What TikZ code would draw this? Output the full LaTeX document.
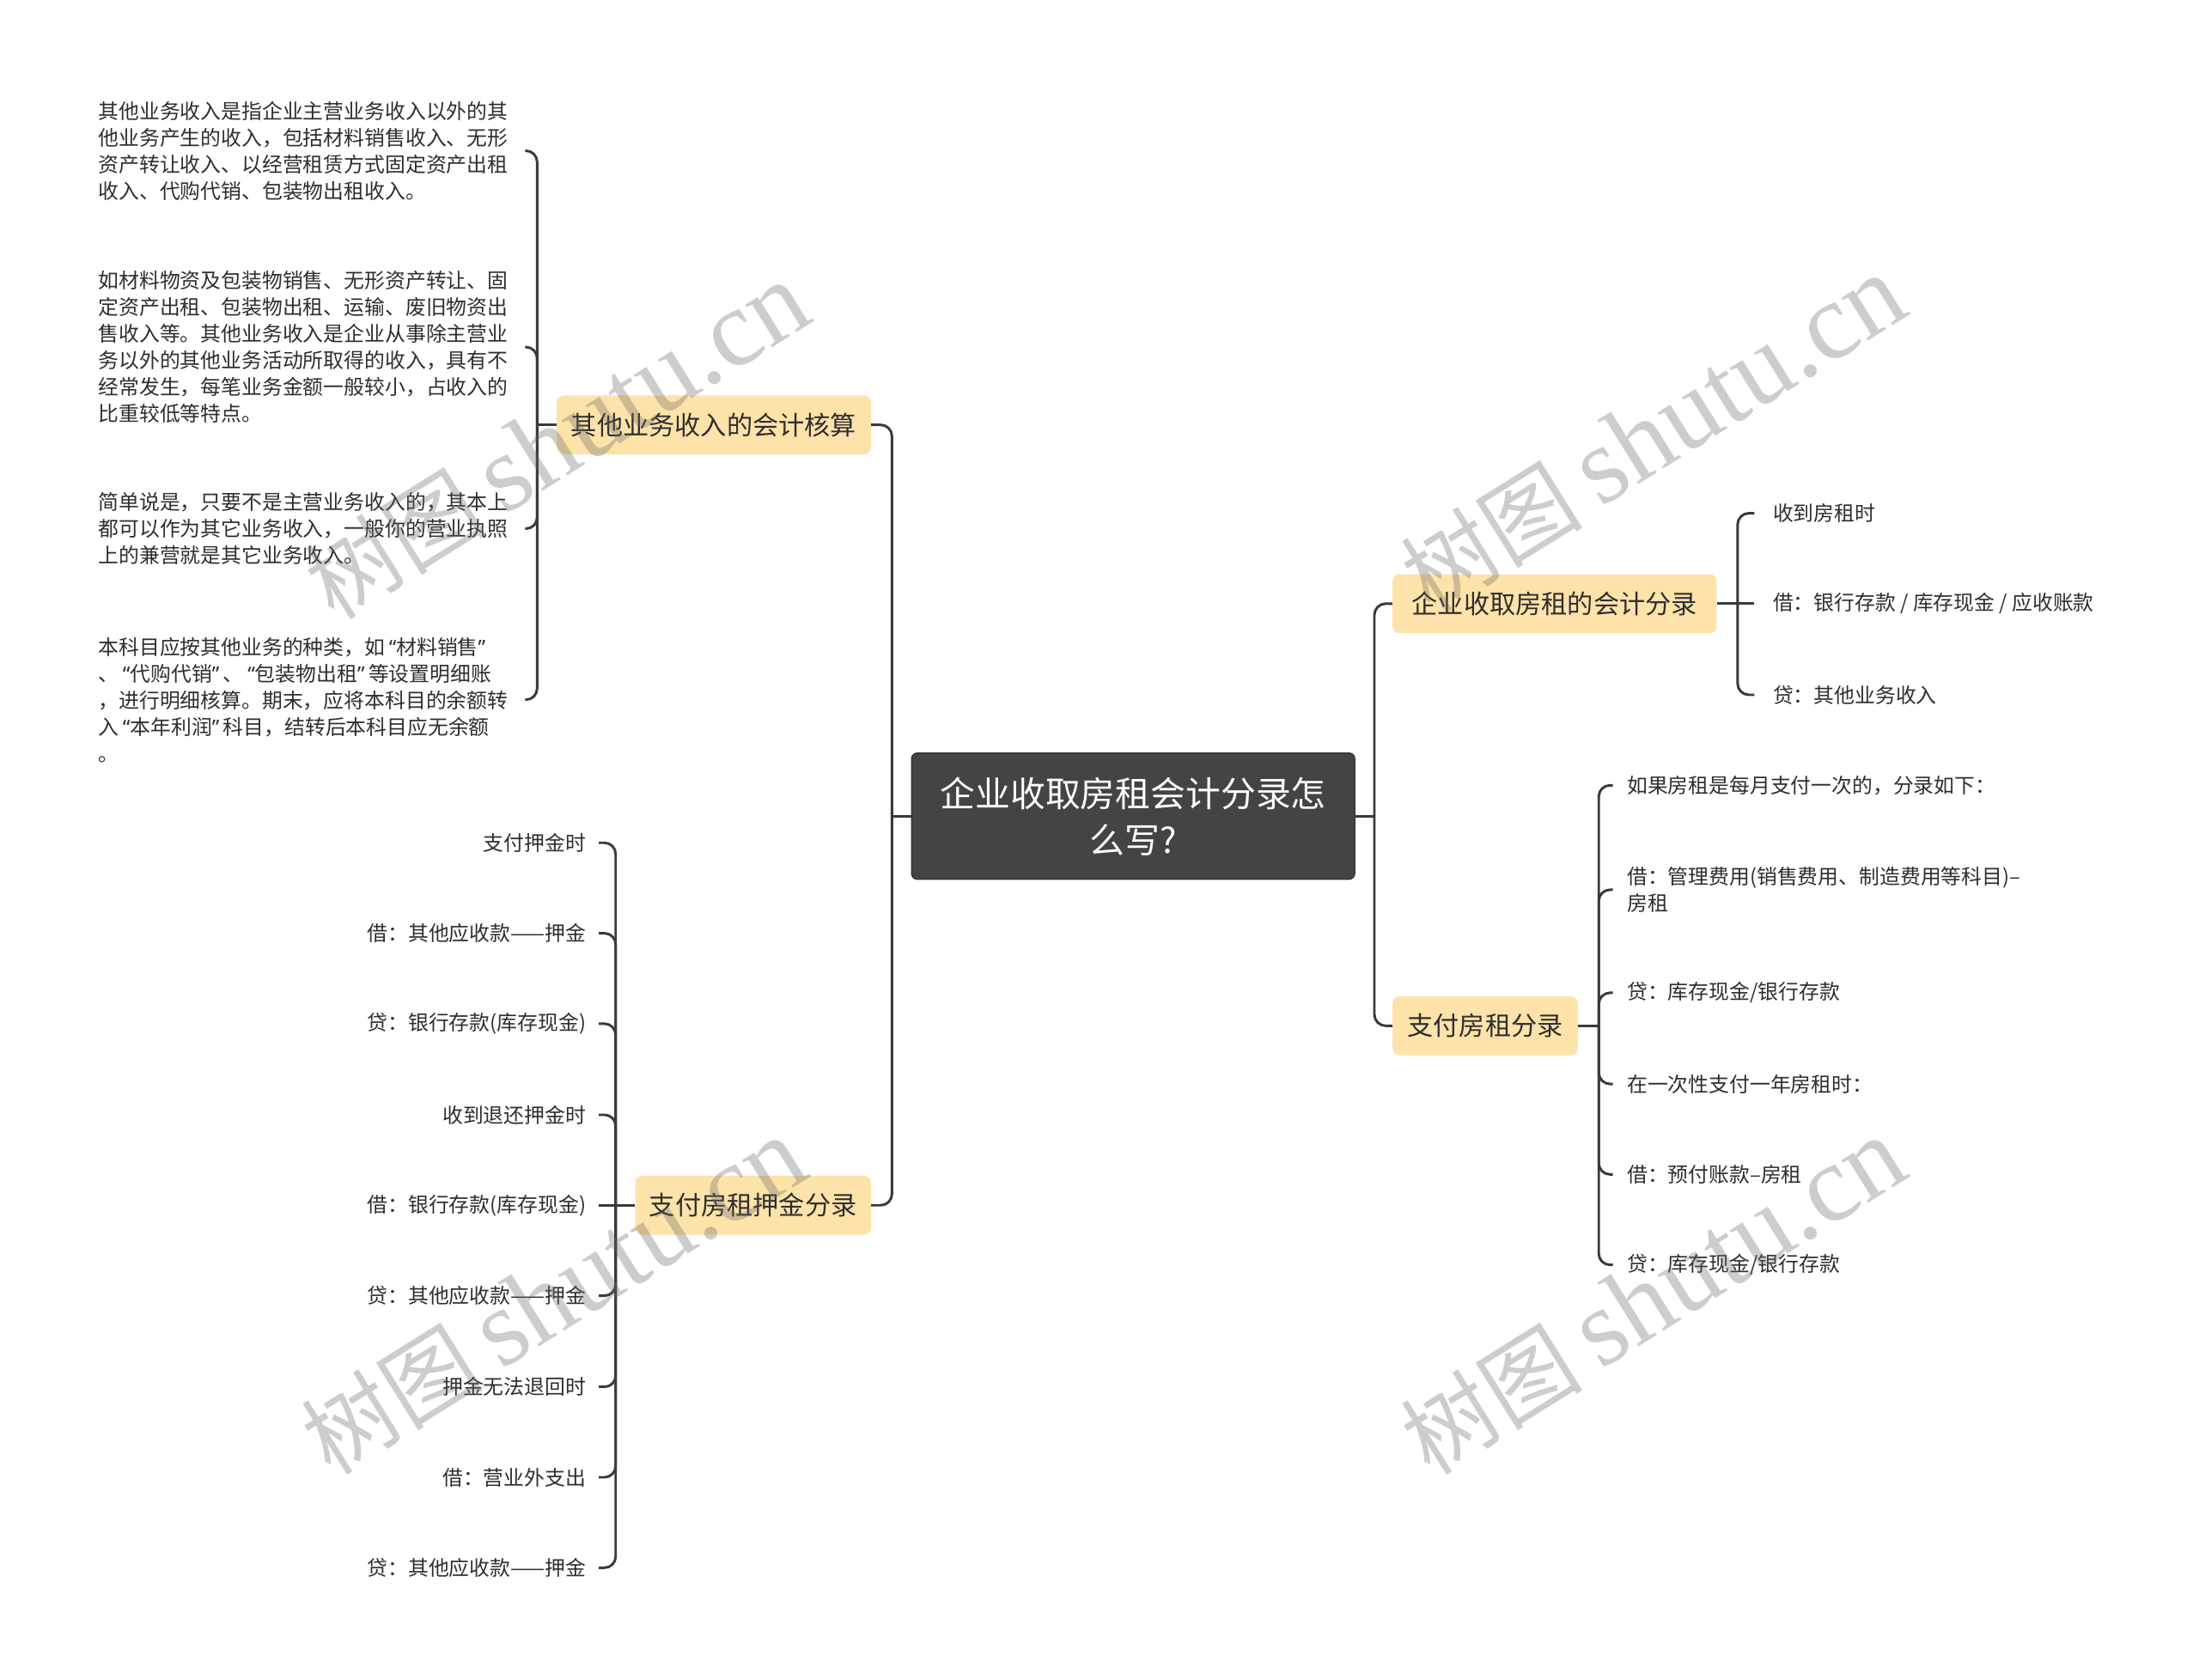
\documentclass[tikz,border=0pt]{standalone}
\usepackage{fontspec}
\setmainfont{Noto Sans CJK SC}
\newfontfamily\wmlatin{Liberation Serif}
\newfontfamily\wmcjk{Noto Sans CJK SC}
\newfontfamily\quotefont{Noto Sans}
\newcommand{\oqt}{\makebox[8pt][r]{\quotefont “}}
\newcommand{\cqt}{\makebox[8pt][l]{\quotefont ”}}
\definecolor{branchfill}{HTML}{FDE3A9}
\definecolor{rootfill}{HTML}{444444}
\definecolor{linec}{HTML}{3A3A3A}
\definecolor{textc}{HTML}{2E2E2E}
\tikzset{
  rootbox/.style={draw=black!80, line width=0.8pt, fill=rootfill, rounded corners=4pt, text=white,
    minimum width=316pt, minimum height=90pt, align=center, inner sep=0pt,
    font=\fontsize{25}{33}\selectfont},
  branchbox/.style={fill=branchfill, rounded corners=5pt, text=textc, minimum height=42pt,
    inner xsep=0pt, inner ysep=0pt, font=\fontsize{18.5}{22}\selectfont},
  para/.style={text=textc, align=left, text width=294pt, inner xsep=10pt, inner ysep=2pt,
    font=\fontsize{14.6}{19}\selectfont},
  leafr/.style={text=textc, align=right, inner xsep=9pt, inner ysep=2pt,
    font=\fontsize{14.6}{19}\selectfont},
  leafl/.style={text=textc, align=left, inner xsep=10pt, inner ysep=2pt,
    font=\fontsize{14.6}{19}\selectfont},
  conn/.style={draw=linec, line width=1.8pt, rounded corners=8pt},
  wm/.style={text=black!60, opacity=0.32, rotate=32, inner sep=0pt}
}
\newcommand{\wmtext}{{\wmcjk\fontsize{65}{65}\selectfont 树图}\hspace{13pt}{\wmlatin\fontsize{78}{78}\selectfont shutu.cn}}
\begin{document}
\begin{tikzpicture}[x=1pt,y=-1pt]
\useasboundingbox[fill=white] (0,0) rectangle (1568,1198);

% root
\node[rootbox] (root) at (808,582) {企业收取房租会计分录怎\\么写?};

% branches
\node[branchbox, minimum width=224pt] (b1) at (509,303) {其他业务收入的会计核算};
\node[branchbox, minimum width=168pt] (b2) at (537,859.5) {支付房租押金分录};
\node[branchbox, minimum width=231pt] (b3) at (1108.5,430.5) {企业收取房租的会计分录};
\node[branchbox, minimum width=132pt] (b4) at (1059,731.5) {支付房租分录};

% spine coordinates
\coordinate (sl) at (636,582);
\coordinate (sr) at (980,582);
\coordinate (s1) at (383,303);
\coordinate (s2) at (439,859.5);
\coordinate (s3) at (1239,430.5);
\coordinate (s4) at (1140,731.5);

% leaves of b1
\node[para, anchor=west] (p1) at (60,107.5) {其他业务收入是指企业主营业务收入以外的其\\他业务产生的收入，包括材料销售收入、无形\\资产转让收入、以经营租赁方式固定资产出租\\收入、代购代销、包装物出租收入。};
\node[para, anchor=west] (p2) at (60,247.5) {如材料物资及包装物销售、无形资产转让、固\\定资产出租、包装物出租、运输、废旧物资出\\售收入等。其他业务收入是企业从事除主营业\\务以外的其他业务活动所取得的收入，具有不\\经常发生，每笔业务金额一般较小，占收入的\\比重较低等特点。};
\node[para, anchor=west] (p3) at (60,377) {简单说是，只要不是主营业务收入的，其本上\\都可以作为其它业务收入，一般你的营业执照\\上的兼营就是其它业务收入。};
\node[para, anchor=west] (p4) at (60,499) {本科目应按其他业务的种类，如\oqt 材料销售\cqt\\、\oqt 代购代销\cqt 、\oqt 包装物出租\cqt 等设置明细账\\，进行明细核算。期末，应将本科目的余额转\\入\oqt 本年利润\cqt 科目，结转后本科目应无余额\\。};

% leaves of b2
\node[leafr, anchor=east] (d1) at (427,601) {支付押金时};
\node[leafr, anchor=east] (d2) at (427,665.5) {借：其他应收款——押金};
\node[leafr, anchor=east] (d3) at (427,730) {贷：银行存款(库存现金)};
\node[leafr, anchor=east] (d4) at (427,795) {收到退还押金时};
\node[leafr, anchor=east] (d5) at (427,859.5) {借：银行存款(库存现金)};
\node[leafr, anchor=east] (d6) at (427,924) {贷：其他应收款——押金};
\node[leafr, anchor=east] (d7) at (427,989) {押金无法退回时};
\node[leafr, anchor=east] (d8) at (427,1053.5) {借：营业外支出};
\node[leafr, anchor=east] (d9) at (427,1118) {贷：其他应收款——押金};

% leaves of b3
\node[leafl, anchor=west, inner xsep=13pt] (r1) at (1251,366) {收到房租时};
\node[leafl, anchor=west, inner xsep=13pt] (r2) at (1251,430.5) {借：银行存款 / 库存现金 / 应收账款};
\node[leafl, anchor=west, inner xsep=13pt] (r3) at (1251,495.5) {贷：其他业务收入};

% leaves of b4
\node[leafl, anchor=west] (q1) at (1150,560) {如果房租是每月支付一次的，分录如下：};
\node[leafl, anchor=west] (q2) at (1150,634.5) {借：管理费用(销售费用、制造费用等科目)–\\房租};
\node[leafl, anchor=west] (q3) at (1150,708) {贷：库存现金/银行存款};
\node[leafl, anchor=west] (q4) at (1150,773) {在一次性支付一年房租时：};
\node[leafl, anchor=west] (q5) at (1150,837.5) {借：预付账款–房租};
\node[leafl, anchor=west] (q6) at (1150,902) {贷：库存现金/银行存款};

% connectors root
\draw[conn] (root.west) -- (sl);
\draw[conn] (sl) |- (b1.east);
\draw[conn] (sl) |- (b2.east);
\draw[conn] (root.east) -- (sr);
\draw[conn] (sr) |- (b3.west);
\draw[conn] (sr) |- (b4.west);

% b1
\draw[conn] (b1.west) -- (s1);
\foreach \n in {p1,p2,p3,p4} \draw[conn] (s1) |- (\n.east);
% b2
\draw[conn] (b2.west) -- (s2);
\foreach \n in {d1,d2,d3,d4,d6,d7,d8,d9} \draw[conn] (s2) |- (\n.east);
\draw[conn] (s2) -- (d5.east);
% b3
\draw[conn] (b3.east) -- (s3);
\draw[conn] (s3) |- (r1.west);
\draw[conn] (s3) -- (r2.west);
\draw[conn] (s3) |- (r3.west);
% b4
\draw[conn] (b4.east) -- (s4);
\foreach \n in {q1,q2,q3,q4,q5,q6} \draw[conn] (s4) |- (\n.west);

% watermarks
\node[wm] (w1) at (397,315) {\wmtext};
\node[wm] (w2) at (1179,310) {\wmtext};
\node[wm] (w3) at (395,925) {\wmtext};
\node[wm] (w4) at (1179,925) {\wmtext};
\end{tikzpicture}
\end{document}
